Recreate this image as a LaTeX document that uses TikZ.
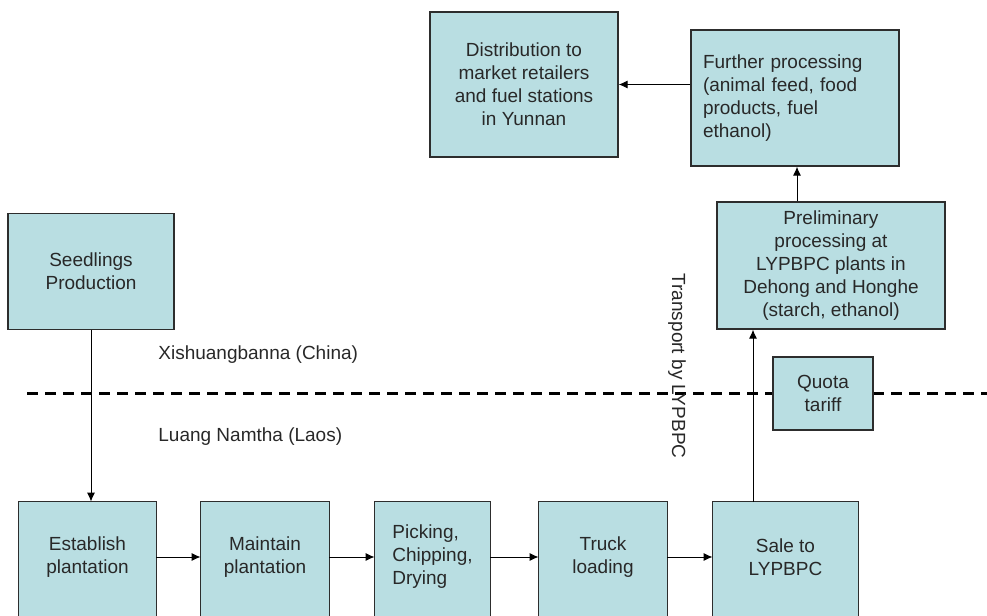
\documentclass[tikz,border=0pt]{standalone}
\usepackage{fontspec}
\setmainfont{Liberation Sans}
\usetikzlibrary{arrows.meta,backgrounds}
\definecolor{stagefill}{RGB}{185,222,226}
\definecolor{stageline}{RGB}{45,45,45}
\definecolor{inktext}{RGB}{40,40,40}
\begin{document}
\begin{tikzpicture}[x=0.5pt, y=-0.5pt,
		font=\fontsize{9.5}{11.5}\selectfont, text=inktext,
		stagebox/.style={draw=stageline, fill=stagefill, line width=0.6pt, inner sep=0pt, align=center},
		rowbox/.style={inner sep=0pt, align=center, minimum height=55pt},
		flow/.style={-{Latex[length=4.5pt, width=4pt]}, line width=0.5pt, black},
		border/.style={line width=1.5pt, dash pattern=on 5.5pt off 3.5pt, black}]
				\useasboundingbox (0,0) rectangle (987,616);
				% upper boxes
				\node[stagebox, minimum width=94pt, minimum height=72.5pt] (dist) at (524,84.5) {Distribution to\\market retailers\\and fuel stations\\in Yunnan};
				\node[stagebox, minimum width=104pt, minimum height=68pt, align=left, text width=92pt] (further) at (795,98) {Further processing\\(animal feed, food\\products, fuel\\ethanol)};
				\node[stagebox, minimum width=114pt, minimum height=63.5pt] (prelim) at (831,265.5) {Preliminary\\processing at\\LYPBPC plants in\\Dehong and Honghe\\(starch, ethanol)};
				\node[stagebox, minimum width=50pt, minimum height=36.5pt] (quota) at (823,393.5) {Quota\\tariff};
				\node[stagebox, minimum width=83pt, minimum height=58pt] (seed) at (91,271.5) {Seedlings\\Production};
				% plantation row
				\node[rowbox, minimum width=68.5pt] (est) at (87.5,557) {Establish\\plantation};
				\node[rowbox, minimum width=64pt] (maint) at (265,557) {Maintain\\plantation};
				\node[rowbox, minimum width=57.5pt, align=left] (pick) at (432.5,557) {Picking,\\Chipping,\\Drying};
				\node[rowbox, minimum width=64pt] (truck) at (603,557) {Truck\\loading};
				\node[rowbox, minimum width=72.5pt] (sale) at (785.5,557) {Sale to\\LYPBPC};
				% labels
				\node[anchor=west, inner sep=0pt] (china) at (158,355) {Xishuangbanna (China)};
				\node[anchor=west, inner sep=0pt] (laos) at (158,437) {Luang Namtha (Laos)};
				\node[rotate=-90] (tport) at (677,366) {Transport by LYPBPC};
				\coordinate (bordW) at (27,393);
				\coordinate (bordE) at (987,393);
				\begin{scope}[on background layer]
					\draw[border] (bordW) -- (bordE);
					\foreach \n in {est,maint,pick,truck,sale}
						\draw[draw=stageline, fill=stagefill, line width=0.6pt] (\n.north west) rectangle ([yshift=-8pt]\n.south east);
				\end{scope}
				% flows
				\draw[flow] (seed.south) -- (seed.south |- est.north);
				\draw[flow] (est.east) -- (maint.west);
				\draw[flow] (maint.east) -- (pick.west);
				\draw[flow] (pick.east) -- (truck.west);
				\draw[flow] (truck.east) -- (sale.west);
				\draw[flow] ([xshift=-16.25pt]sale.north) -- ([xshift=-16.25pt]sale.north |- prelim.south);
				\draw[flow] ([xshift=1pt]further.south |- prelim.north) -- ([xshift=1pt]further.south);
				\draw[flow] (further.west |- dist.east) -- (dist.east);
			\end{tikzpicture}
\end{document}
